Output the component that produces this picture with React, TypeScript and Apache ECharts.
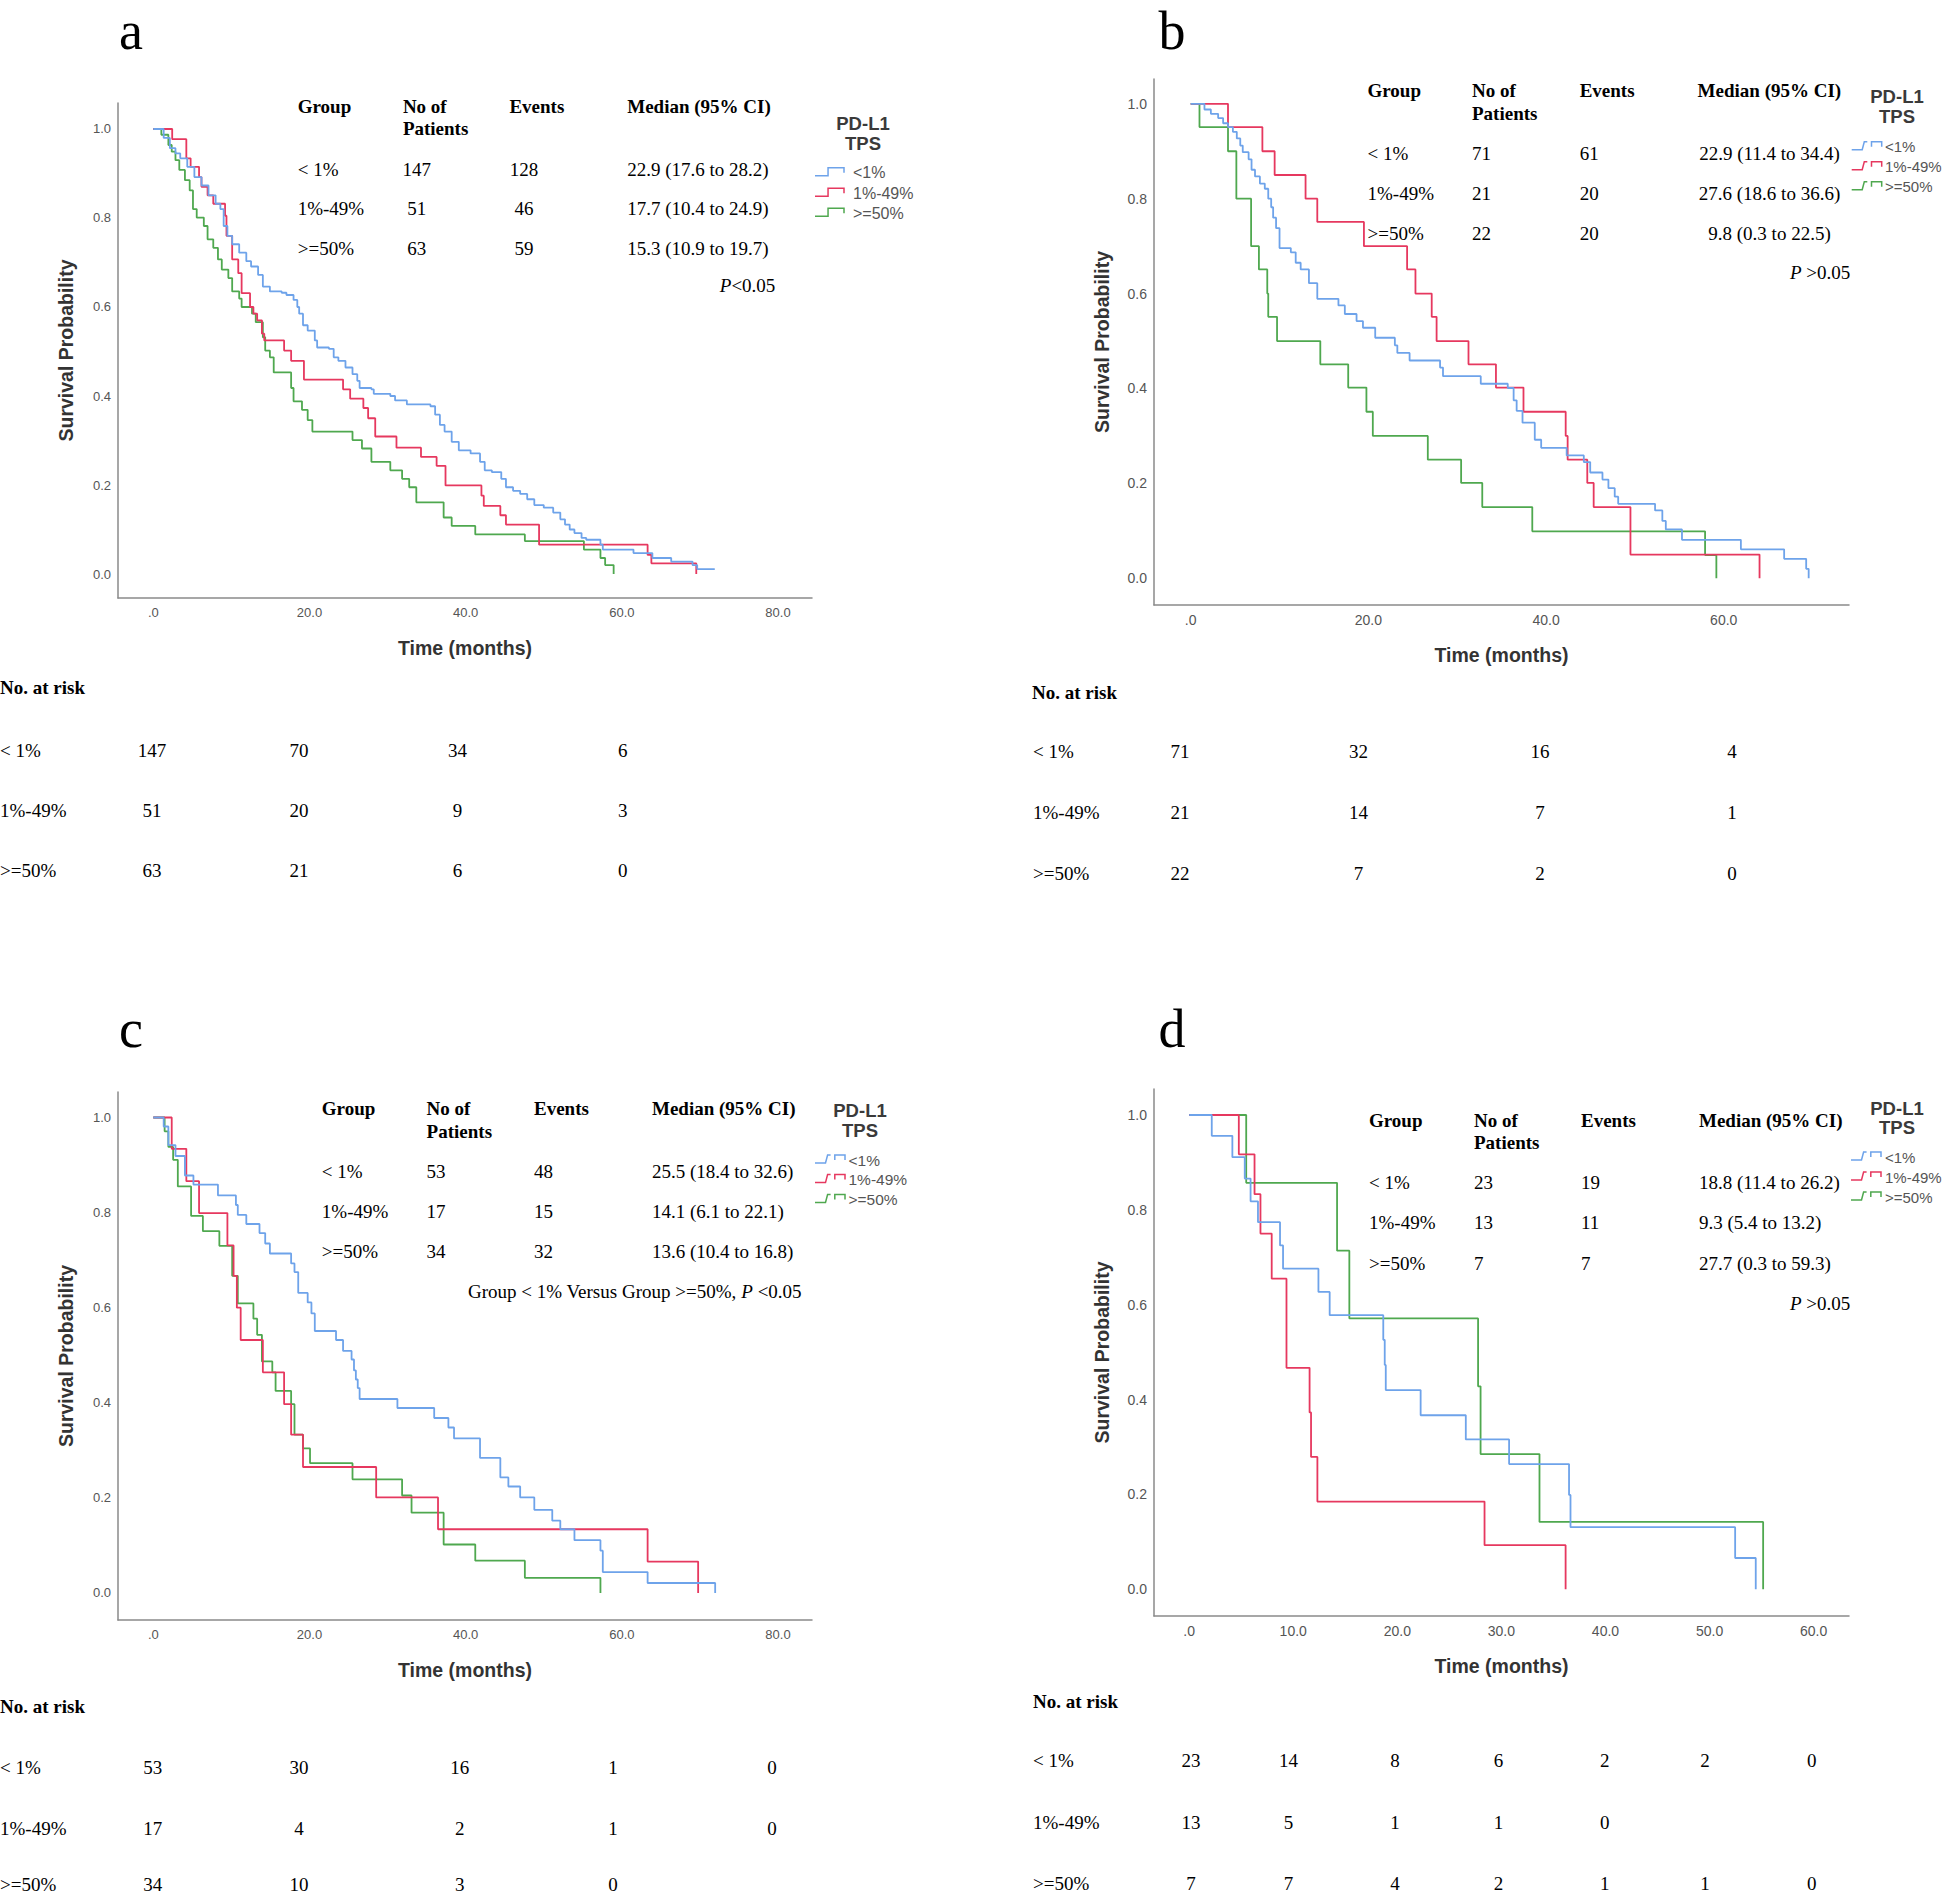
import React, { useEffect, useRef } from 'react';
import * as echarts from 'echarts';

const SERIF = '"Liberation Serif", "Times New Roman", serif';
const SANS = '"Liberation Sans", Arial, sans-serif';

const GROUPS = ['< 1%', '1%-49%', '>=50%'];
const LEGEND_NAMES = ['<1%', '1%-49%', '>=50%'];
const COLORS = ['#6ea3ea', '#e6385f', '#4fa84f'];
const PANEL_LETTERS = ['a', 'b', 'c', 'd'];

// Kaplan-Meier curves: [time (months), survival probability]
const A_LOW = [[0,1],[1.33,0.980],[2.12,0.957],[2.84,0.945],[3.45,0.934],[4.35,0.915],[5.26,0.892],[6.17,0.873],[7.07,0.851],[7.98,0.832],[8.59,0.820],[9.01,0.782],[9.49,0.760],[10.10,0.741],[11.00,0.722],[11.91,0.703],[12.52,0.691],[13.42,0.672],[14.03,0.646],[14.93,0.635],[16.44,0.632],[17.05,0.627],[17.96,0.616],[18.44,0.600],[18.68,0.585],[19.17,0.559],[19.77,0.547],[20.68,0.525],[20.98,0.509],[22.49,0.506],[23.10,0.487],[23.70,0.479],[24.61,0.464],[25.51,0.449],[26.12,0.434],[26.42,0.418],[27.93,0.415],[28.23,0.405],[30.35,0.400],[30.96,0.390],[32.47,0.381],[35.49,0.377],[36.09,0.358],[36.70,0.335],[37.30,0.320],[38.21,0.297],[39.12,0.278],[40.63,0.271],[41.84,0.252],[42.44,0.233],[43.35,0.229],[44.56,0.214],[45.16,0.195],[46.07,0.187],[46.98,0.180],[47.88,0.168],[48.79,0.155],[50.00,0.149],[51.21,0.138],[52.12,0.123],[52.72,0.111],[53.32,0.100],[53.93,0.092],[54.84,0.081],[55.44,0.077],[57.26,0.066],[57.56,0.055],[61.49,0.047],[63.91,0.036],[66.32,0.028],[69.05,0.020],[69.65,0.011],[71.9,0.011]];
const A_MID = [[0,1],[2.42,0.977],[4.23,0.934],[4.78,0.915],[5.86,0.892],[6.17,0.870],[6.95,0.851],[7.68,0.832],[9.19,0.805],[9.37,0.760],[10.10,0.707],[10.88,0.676],[11.31,0.631],[12.39,0.600],[12.82,0.585],[13.30,0.570],[13.91,0.540],[14.21,0.525],[16.75,0.502],[17.65,0.479],[19.29,0.437],[24.30,0.415],[25.21,0.394],[26.90,0.373],[27.51,0.350],[28.42,0.309],[31.14,0.284],[34.28,0.263],[36.28,0.243],[37.42,0.199],[42.02,0.176],[42.32,0.153],[44.44,0.132],[45.16,0.111],[49.40,0.066],[63.30,0.043],[63.78,0.024],[69.53,0]];
const A_HIGH = [[0,1],[1.03,0.987],[1.93,0.964],[2.36,0.949],[2.84,0.930],[3.33,0.908],[4.05,0.885],[4.66,0.862],[5.08,0.820],[5.56,0.801],[6.47,0.782],[6.95,0.752],[7.68,0.733],[8.28,0.707],[8.77,0.684],[9.61,0.665],[10.10,0.635],[11.00,0.619],[11.31,0.600],[12.64,0.585],[13.12,0.566],[14.03,0.532],[14.33,0.502],[14.93,0.487],[15.42,0.453],[17.65,0.418],[17.96,0.388],[19.04,0.369],[19.77,0.346],[20.37,0.320],[25.51,0.301],[26.72,0.282],[27.93,0.252],[30.35,0.233],[31.86,0.214],[32.77,0.195],[33.68,0.161],[37.18,0.127],[38.21,0.108],[41.23,0.089],[47.58,0.074],[55.14,0.055],[57.26,0.036],[57.86,0.020],[58.95,0]];

const B_LOW = [[0,1],[1.55,0.988],[2.27,0.979],[3.09,0.970],[3.65,0.959],[4.20,0.951],[4.75,0.941],[5.19,0.927],[5.58,0.912],[5.86,0.898],[6.52,0.883],[6.85,0.861],[7.24,0.847],[7.79,0.832],[8.34,0.821],[8.73,0.800],[9.06,0.782],[9.28,0.760],[9.61,0.738],[10.0,0.696],[11.27,0.687],[11.82,0.665],[12.38,0.651],[13.31,0.622],[14.25,0.589],[16.63,0.575],[17.35,0.557],[18.67,0.542],[19.39,0.528],[20.77,0.507],[22.98,0.491],[23.26,0.475],[24.64,0.459],[28.07,0.444],[28.40,0.426],[32.65,0.410],[35.69,0.401],[36.35,0.375],[36.69,0.353],[37.35,0.328],[38.73,0.292],[39.45,0.275],[42.32,0.259],[44.25,0.245],[44.97,0.223],[46.35,0.208],[47.02,0.190],[47.73,0.172],[48.12,0.157],[52.27,0.143],[53.09,0.121],[53.48,0.103],[55.30,0.081],[61.93,0.061],[66.80,0.041],[69.28,0.020],[69.56,0]];
const B_MID = [[0,1],[4.2,0.951],[8.07,0.900],[9.45,0.850],[12.93,0.800],[14.25,0.751],[19.50,0.700],[24.36,0.651],[25.30,0.600],[27.13,0.551],[27.68,0.500],[31.27,0.451],[34.36,0.402],[37.46,0.351],[42.21,0.300],[42.43,0.250],[44.64,0.201],[45.36,0.150],[49.50,0.050],[64.03,0]];
const B_HIGH = [[0,1],[0.99,0.951],[4.20,0.900],[5.14,0.800],[6.80,0.700],[7.68,0.651],[8.62,0.600],[8.73,0.551],[9.72,0.500],[14.59,0.451],[17.73,0.402],[19.78,0.351],[20.50,0.300],[26.69,0.250],[30.44,0.201],[32.82,0.150],[38.45,0.099],[57.90,0.049],[59.17,0]];

const C_LOW = [[0,1],[1.33,0.981],[1.93,0.942],[2.84,0.919],[4.05,0.878],[5.14,0.859],[8.28,0.836],[10.58,0.816],[10.82,0.795],[11.91,0.776],[13.60,0.757],[14.33,0.735],[14.93,0.714],[17.65,0.693],[18.08,0.675],[18.56,0.631],[19.77,0.611],[20.25,0.588],[20.68,0.551],[23.40,0.532],[24.30,0.509],[25.39,0.491],[25.70,0.468],[25.94,0.449],[26.18,0.431],[26.42,0.408],[31.26,0.389],[35.97,0.368],[37.79,0.348],[38.51,0.325],[41.84,0.284],[44.44,0.243],[45.47,0.224],[46.98,0.201],[48.79,0.175],[51.09,0.152],[52.12,0.134],[53.93,0.111],[57.26,0.089],[57.56,0.044],[63.30,0.021],[71.95,0]];
const C_MID = [[0,1],[2.36,0.934],[4.23,0.866],[5.86,0.799],[9.49,0.731],[10.28,0.667],[10.70,0.600],[11.19,0.532],[14.03,0.464],[16.75,0.397],[17.65,0.333],[19.17,0.265],[28.54,0.201],[36.46,0.134],[63.30,0.066],[69.77,0]];
const C_HIGH = [[0,1],[1.45,0.971],[1.93,0.938],[2.54,0.911],[3.14,0.855],[4.84,0.793],[6.35,0.761],[8.46,0.730],[10.10,0.667],[10.82,0.609],[12.82,0.577],[13.30,0.543],[13.91,0.487],[15.24,0.464],[15.66,0.425],[17.65,0.397],[18.08,0.333],[19.17,0.304],[20.07,0.273],[25.51,0.239],[31.86,0.205],[33.07,0.169],[37.18,0.102],[41.23,0.068],[47.58,0.032],[57.26,0]];

const D_LOW = [[0,1],[2.17,0.956],[4.15,0.911],[5.34,0.866],[5.90,0.818],[6.61,0.774],[8.73,0.725],[9.02,0.676],[12.42,0.627],[13.50,0.578],[18.65,0.526],[18.79,0.473],[18.89,0.420],[22.24,0.367],[26.58,0.316],[30.74,0.264],[36.50,0.199],[36.64,0.131],[52.46,0.066],[54.44,0]];
const D_MID = [[0,1],[4.77,0.917],[6.28,0.833],[6.85,0.750],[7.93,0.655],[9.35,0.467],[11.57,0.373],[11.71,0.279],[12.32,0.185],[28.38,0.093],[36.17,0]];
const D_HIGH = [[0,1],[5.48,0.857],[14.21,0.714],[15.39,0.571],[27.76,0.428],[28.00,0.285],[33.66,0.142],[55.15,0]];

const CURVES = [
  [A_LOW, A_MID, A_HIGH],
  [B_LOW, B_MID, B_HIGH],
  [C_LOW, C_MID, C_HIGH],
  [D_LOW, D_MID, D_HIGH],
];

// Summary tables
const PATIENTS = [[147, 51, 63], [71, 21, 22], [53, 17, 34], [23, 13, 7]];
const EVENTS = [[128, 46, 59], [61, 20, 20], [48, 15, 32], [19, 11, 7]];
const MEDIANS = [
  ['22.9 (17.6 to 28.2)', '17.7 (10.4 to 24.9)', '15.3 (10.9 to 19.7)'],
  ['22.9 (11.4 to 34.4)', '27.6 (18.6 to 36.6)', '9.8 (0.3 to 22.5)'],
  ['25.5 (18.4 to 32.6)', '14.1 (6.1 to 22.1)', '13.6 (10.4 to 16.8)'],
  ['18.8 (11.4 to 26.2)', '9.3 (5.4 to 13.2)', '27.7 (0.3 to 59.3)'],
];
const P_TEXTS = ['{i|P}<0.05', '{i|P} >0.05', 'Group < 1% Versus Group >=50%, {i|P} <0.05', '{i|P} >0.05'];

// Number at risk tables
const AT_RISK = [
  [[147, 70, 34, 6], [51, 20, 9, 3], [63, 21, 6, 0]],
  [[71, 32, 16, 4], [21, 14, 7, 1], [22, 7, 2, 0]],
  [[53, 30, 16, 1, 0], [17, 4, 2, 1, 0], [34, 10, 3, 0]],
  [[23, 14, 8, 6, 2, 2, 0], [13, 5, 1, 1, 0], [7, 7, 4, 2, 1, 1, 0]],
];
const X_STEPS = [20, 20, 20, 10];

// Layout (pixel positions)
const LAYOUT = [
  {
    letter: { x: 131, y: 4 },
    grid: { left: 118, top: 103, width: 694, height: 495 },
    xRange: [-4.52, 84.35], yRange: [-0.0539, 1.0584], tickFont: 13,
    table: { headX: [297.7, 402.9, 509.4, 627.2], numX: [416.8, 524], numAlign: 'center', medX: 627.2, medAlign: 'left', headY: 106, head2Y: 128.3, rowY: [169.3, 208.3, 248.3], pX: 719.8, pY: 285 },
    legend: { cx: 863, titleY: [123, 143], itemY: [172.7, 193.3, 213.3], symX: [815, 844], textX: 853, style: 'a', size: 16 },
    risk: { titleY: 687.7, titleX: 0, rowY: [750, 810, 870.7], labelX: 0, cols: [152.1, 299, 457.5, 622.8] },
  },
  {
    letter: { x: 1172, y: 4 },
    grid: { left: 1154, top: 79, width: 695, height: 526 },
    xRange: [-4.13, 74.1], yRange: [-0.0563, 1.0523], tickFont: 14,
    table: { headX: [1367.5, 1472, 1579.7, 1697.6], numX: [1472, 1579.7], numAlign: 'left', medX: 1769.5, medAlign: 'center', headY: 90.3, head2Y: 113.4, rowY: [153.3, 193.6, 233.9], pX: 1790, pY: 272.8 },
    legend: { cx: 1897, titleY: [96, 116], itemY: [146.7, 166.7, 186.7], symX: [1851.7, 1881.7], textX: 1885, style: 'b', size: 15 },
    risk: { titleY: 692, titleX: 1032, rowY: [751.7, 812.7, 873.3], labelX: 1033, cols: [1180, 1358.6, 1540, 1732] },
  },
  {
    letter: { x: 131, y: 1002 },
    grid: { left: 118, top: 1092, width: 694, height: 528 },
    xRange: [-4.52, 84.35], yRange: [-0.0568, 1.0536], tickFont: 13,
    table: { headX: [321.8, 426.6, 534, 652], numX: [426.6, 534], numAlign: 'left', medX: 652, medAlign: 'left', headY: 1108, head2Y: 1131, rowY: [1171.4, 1211.4, 1251.4], pX: 468, pY: 1291 },
    legend: { cx: 860, titleY: [1110, 1130], itemY: [1160, 1179.6, 1199.5], symX: [815, 845], textX: 848.5, style: 'b', size: 15.5 },
    risk: { titleY: 1706.7, titleX: 0, rowY: [1767.3, 1828.3, 1884], labelX: 0, cols: [152.7, 299, 459.8, 613, 772] },
  },
  {
    letter: { x: 1172, y: 1002 },
    grid: { left: 1154, top: 1089, width: 695, height: 527 },
    xRange: [-3.38, 63.4], yRange: [-0.0563, 1.0548], tickFont: 14,
    table: { headX: [1369, 1474, 1581, 1699], numX: [1474, 1581], numAlign: 'left', medX: 1699, medAlign: 'left', headY: 1120.4, head2Y: 1142.9, rowY: [1182.9, 1222.9, 1263.2], pX: 1790, pY: 1303 },
    legend: { cx: 1897, titleY: [1108, 1127], itemY: [1157, 1177, 1197], symX: [1851, 1881], textX: 1885, style: 'b', size: 15 },
    risk: { titleY: 1701.7, titleX: 1033, rowY: [1760, 1822.7, 1883.3], labelX: 1033, cols: [1191, 1288.4, 1395, 1498.5, 1604.7, 1705, 1811.7] },
  },
];

const isMult = (v: number, step: number) => Math.abs(v / step - Math.round(v / step)) < 1e-6;

function txt(text: string, x: number, y: number, o: any = {}) {
  return {
    type: 'text', x, y, silent: true, z: 10,
    style: {
      text,
      fill: o.fill || '#000',
      fontFamily: o.family || SERIF,
      fontSize: o.size || 19,
      fontWeight: o.weight || 'normal',
      fontStyle: o.style || 'normal',
      textAlign: o.align || 'left',
      textVerticalAlign: o.va || 'middle',
      rich: o.rich,
    },
  };
}

function buildOption() {
  const grid: any[] = [];
  const xAxis: any[] = [];
  const yAxis: any[] = [];
  const series: any[] = [];
  const graphic: any[] = [];

  LAYOUT.forEach((l, i) => {
    grid.push({ left: l.grid.left, top: l.grid.top, width: l.grid.width, height: l.grid.height, containLabel: false });
    const step = X_STEPS[i];
    xAxis.push({
      type: 'value', gridIndex: i, min: l.xRange[0], max: l.xRange[1],
      name: 'Time (months)', nameLocation: 'middle', nameGap: 40,
      nameTextStyle: { fontFamily: SANS, fontSize: 19.5, fontWeight: 'bold', color: '#333' },
      axisLine: { onZero: false, lineStyle: { color: '#8a8a8a', width: 1.5 } },
      axisTick: { show: false }, splitLine: { show: false },
      axisLabel: {
        margin: 8, fontFamily: SANS, fontSize: l.tickFont, color: '#555',
        showMinLabel: false, showMaxLabel: false,
        formatter: (v: number) => (isMult(v, step) && v >= -1e-9 ? (Math.abs(v) < 1e-9 ? '.0' : v.toFixed(1)) : ''),
      },
    });
    yAxis.push({
      type: 'value', gridIndex: i, min: l.yRange[0], max: l.yRange[1],
      name: 'Survival Probability', nameLocation: 'middle', nameGap: 42,
      nameTextStyle: { fontFamily: SANS, fontSize: 19.5, fontWeight: 'bold', color: '#333' },
      axisLine: { onZero: false, lineStyle: { color: '#8a8a8a', width: 1.5 } },
      axisTick: { show: false }, splitLine: { show: false },
      axisLabel: {
        margin: 7, fontFamily: SANS, fontSize: l.tickFont, color: '#555',
        showMinLabel: false, showMaxLabel: false,
        formatter: (v: number) => (isMult(v, 0.2) && v >= -1e-9 && v <= 1 + 1e-9 ? v.toFixed(1) : ''),
      },
    });
    CURVES[i].forEach((data, g) => {
      series.push({
        type: 'line', name: LEGEND_NAMES[g], xAxisIndex: i, yAxisIndex: i, step: 'end',
        data, showSymbol: false, symbol: 'none', silent: true,
        lineStyle: { color: COLORS[g], width: 1.8 }, itemStyle: { color: COLORS[g] },
        z: 3 - g,
      });
    });

    // panel letter
    graphic.push(txt(PANEL_LETTERS[i], l.letter.x, l.letter.y, { size: 54, align: 'center', va: 'top' }));

    // summary table
    const t = l.table;
    const bold = { weight: 'bold' };
    graphic.push(txt('Group', t.headX[0], t.headY, bold));
    graphic.push(txt('No of', t.headX[1], t.headY, bold));
    graphic.push(txt('Patients', t.headX[1], t.head2Y, bold));
    graphic.push(txt('Events', t.headX[2], t.headY, bold));
    graphic.push(txt('Median (95% CI)', t.headX[3], t.headY, bold));
    GROUPS.forEach((gname, g) => {
      const y = t.rowY[g];
      graphic.push(txt(gname, t.headX[0], y));
      graphic.push(txt(String(PATIENTS[i][g]), t.numX[0], y, { align: t.numAlign }));
      graphic.push(txt(String(EVENTS[i][g]), t.numX[1], y, { align: t.numAlign }));
      graphic.push(txt(MEDIANS[i][g], t.medX, y, { align: t.medAlign }));
    });
    graphic.push(txt(P_TEXTS[i], t.pX, t.pY, {
      rich: { i: { fontStyle: 'italic', fontFamily: SERIF, fontSize: 19, fill: '#000' } },
    }));

    // legend
    const lg = l.legend;
    graphic.push(txt('PD-L1', lg.cx, lg.titleY[0], { family: SANS, size: 18.5, weight: 'bold', fill: '#3a3a3a', align: 'center' }));
    graphic.push(txt('TPS', lg.cx, lg.titleY[1], { family: SANS, size: 18.5, weight: 'bold', fill: '#3a3a3a', align: 'center' }));
    LEGEND_NAMES.forEach((name, g) => {
      const y = lg.itemY[g];
      const x0 = lg.symX[0];
      const x1 = lg.symX[1];
      const w = x1 - x0;
      const lo = y + 3;
      const hi = y - 5;
      const st = { stroke: COLORS[g], fill: null, lineWidth: 1.5 };
      if (lg.style === 'a') {
        graphic.push({ type: 'polyline', silent: true, shape: { points: [[x0, lo], [x0 + 0.45 * w, lo], [x0 + 0.45 * w, hi], [x1, hi], [x1, y]] }, style: st });
      } else {
        graphic.push({ type: 'polyline', silent: true, shape: { points: [[x0, lo], [x0 + 0.35 * w, lo], [x0 + 0.42 * w, hi], [x0 + 0.52 * w, hi]] }, style: st });
        graphic.push({ type: 'polyline', silent: true, shape: { points: [[x0 + 0.66 * w, y], [x0 + 0.66 * w, hi], [x1, hi], [x1, y]] }, style: st });
      }
      graphic.push(txt(name, lg.textX, y, { family: SANS, size: lg.size, fill: '#555' }));
    });

    // number at risk
    const r = l.risk;
    graphic.push(txt('No. at risk', r.titleX, r.titleY, { weight: 'bold' }));
    GROUPS.forEach((gname, g) => {
      const y = r.rowY[g];
      graphic.push(txt(gname, r.labelX, y));
      AT_RISK[i][g].forEach((n, k) => {
        graphic.push(txt(String(n), r.cols[k], y, { align: 'center' }));
      });
    });
  });

  return {
    animation: false,
    backgroundColor: '#ffffff',
    grid, xAxis, yAxis, series, graphic,
  };
}

export default function App() {
  const ref = useRef<HTMLDivElement>(null);
  useEffect(() => {
    const chart = echarts.init(ref.current as HTMLDivElement, null, { renderer: 'svg' });
    chart.setOption(buildOption() as any);
    return () => chart.dispose();
  }, []);
  return (
    <div
      ref={ref}
      style={{ position: 'absolute', left: 0, top: 0, width: 1945, height: 1895, background: '#fff' }}
    />
  );
}
